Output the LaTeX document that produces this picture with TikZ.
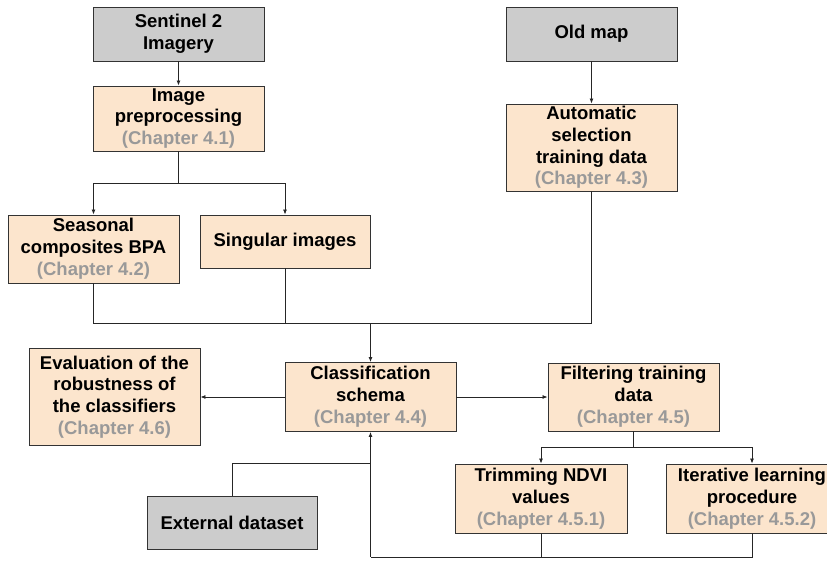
\documentclass[tikz,border=0pt]{standalone}
\usepackage{fontspec}
\setmainfont{Liberation Sans}
\usetikzlibrary{arrows.meta,positioning}
\definecolor{srcgray}{HTML}{CCCCCC}
\definecolor{procfill}{HTML}{FCE5CD}
\definecolor{chapgray}{HTML}{999999}
\newcommand{\chap}[1]{\textcolor{chapgray}{(Chapter #1)}}
\tikzset{
  every node/.style={
    font=\fontsize{18.5}{21.8}\selectfont\bfseries
  },
  source/.style={
    shape=rectangle,
    draw=black!80,
    line width=0.9pt,
    fill=srcgray,
    align=center,
    inner sep=1pt
  },
  process/.style={
    shape=rectangle,
    draw=black!80,
    line width=0.9pt,
    fill=procfill,
    align=center,
    inner sep=1pt
  },
  flow/.style={
    draw=black!85,
    line width=0.8pt
  },
  flowarrow/.style={
    flow,
    -{Latex[length=5pt,width=4pt]}
  }
}
\begin{document}
\begin{tikzpicture}[x=1pt,y=-1pt]
  \useasboundingbox (0,0) rectangle (827,561);
  \clip (0,0) rectangle (827,561);
  % inputs
  \node [source, minimum width=171pt, minimum height=54pt] (sentinel) at (178.5,34) {Sentinel 2\\Imagery};
  \node [source, minimum width=171pt, minimum height=54pt] (oldmap) at (591.5,34) {Old map};
  \node [source, minimum width=170pt, minimum height=53pt] (external) at (232,522.5) {External dataset};
  % processing steps
  \node [process, minimum width=171pt, minimum height=65pt] (preproc) at (178.5,118.5) {Image\\preprocessing\\\chap{4.1}};
  \node [process, minimum width=171pt, minimum height=68pt] (seasonal) at (93.5,249) {Seasonal\\composites BPA\\\chap{4.2}};
  \node [process, minimum width=170pt, minimum height=53pt] (singular) at (285,241.5) {Singular images};
  \node [process, minimum width=171pt, minimum height=87pt] (autosel) at (591.5,147.5) {Automatic\\selection\\training data\\\chap{4.3}};
  \node [process, minimum width=171pt, minimum height=69pt] (classif) at (370.5,397) {Classification\\schema\\\chap{4.4}};
  \node [process, minimum width=171pt, minimum height=97pt] (evaluation) at (114.5,397) {Evaluation of the\\robustness of\\the classifiers\\\chap{4.6}};
  \node [process, minimum width=171pt, minimum height=68pt] (filtering) at (633.5,397) {Filtering training\\data\\\chap{4.5}};
  \node [process, minimum width=172pt, minimum height=69pt] (trimming) at (541,498.5) {Trimming NDVI\\values\\\chap{4.5.1}};
  \node [process, minimum width=171pt, minimum height=69pt] (iterative) at (752,498.5) {Iterative learning\\procedure\\\chap{4.5.2}};
  % junction points
  \coordinate (splitpre) at (178.5,183);
  \coordinate (mergein) at (370.5,323);
  \coordinate (splitfilt) at (633.5,447);
  \coordinate (mergeback) at (370.5,557);
  \coordinate (extjoin) at (370.5,463);
  % connectors
  \draw [flowarrow] (sentinel) -- (preproc);
  \draw [flowarrow] (oldmap) -- (autosel);
  \draw [flow] (preproc) -- (splitpre);
  \draw [flowarrow] (splitpre) -| (seasonal.north);
  \draw [flowarrow] (splitpre) -| (singular.north);
  \draw [flow] (seasonal.south) |- (mergein);
  \draw [flow] (singular.south) |- (mergein);
  \draw [flow] (autosel.south) |- (mergein);
  \draw [flowarrow] (mergein) -- (classif);
  \draw [flowarrow] (classif.west) -- (evaluation.east);
  \draw [flowarrow] (classif.east) -- (filtering.west);
  \draw [flow] (filtering) -- (splitfilt);
  \draw [flowarrow] (splitfilt) -| (trimming.north);
  \draw [flowarrow] (splitfilt) -| (iterative.north);
  \draw [flow] (trimming.south) |- (mergeback);
  \draw [flow] (iterative.south) |- (mergeback);
  \draw [flowarrow] (mergeback) -- (classif.south);
  \draw [flow] (external.north) |- (extjoin);
\end{tikzpicture}
\end{document}
